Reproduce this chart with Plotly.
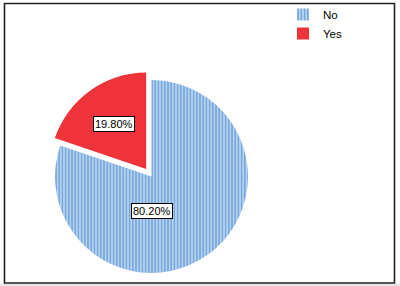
import math
import plotly.graph_objects as go

labels = ["No", "Yes"]
values = [80.2, 19.8]
text_labels = ["80.20%", "19.80%"]
colors = ["#a8c8ec", "#ee333a"]
pulls = [0, 0.095]

W, H = 400, 286
# pie domain in pixels
cx, cy, half = 151.5, 176.5, 105.6
dom_x = [(cx - half) / W, (cx + half) / W]
dom_y = [1 - (cy + half) / H, 1 - (cy - half) / H]

fig = go.Figure()
fig.add_trace(go.Pie(
    labels=labels,
    values=values,
    sort=False,
    direction="clockwise",
    rotation=0,
    pull=pulls,
    textinfo="none",
    hoverinfo="skip",
    marker=dict(
        colors=colors,
        line=dict(width=0),
        pattern=dict(shape=["|", ""], fgcolor=["#6a9fd9", "#ee333a"],
                     bgcolor=["#b8d3f0", "#ee333a"], size=3.2, solidity=0.42),
    ),
    domain=dict(x=dom_x, y=dom_y),
))

# label positions derived from slice geometry
r = half / (1 + max(pulls))
total = sum(values)
annotations = []
start = 0.0
label_frac = [0.36, 0.57]
for i, v in enumerate(values):
    a0 = start / total * 360
    a1 = (start + v) / total * 360
    mid = math.radians((a0 + a1) / 2)
    start += v
    px = cx + math.sin(mid) * r * pulls[i]
    py = cy - math.cos(mid) * r * pulls[i]
    if i == 0:
        lx, ly = px, py + label_frac[i] * r
    else:
        lx = px + math.sin(mid) * r * label_frac[i]
        ly = py - math.cos(mid) * r * label_frac[i]
    annotations.append(dict(
        x=lx / W, y=1 - ly / H, xref="paper", yref="paper",
        xanchor="center", yanchor="middle",
        text=text_labels[i], showarrow=False,
        font=dict(family="Liberation Sans, Arial", size=11, color="black"),
        bgcolor="white", bordercolor="black", borderwidth=1, borderpad=1,
    ))

fig.update_layout(
    width=W, height=H,
    margin=dict(l=0, r=0, t=0, b=0),
    paper_bgcolor="white",
    plot_bgcolor="white",
    showlegend=True,
    legend=dict(
        x=283 / W, y=1.0, xanchor="left", yanchor="top",
        font=dict(family="Liberation Sans, Arial", size=11.5, color="black"),
        bgcolor="rgba(0,0,0,0)", traceorder="normal",
        itemwidth=30, tracegroupgap=0,
    ),
    annotations=annotations,
    shapes=[
        dict(type="rect", xref="paper", yref="paper",
             x0=0, x1=1, y0=0, y1=2.5 / H,
             fillcolor="#e6e6e6", line=dict(width=0), layer="below"),
        dict(type="rect", xref="paper", yref="paper",
             x0=4.5 / W, x1=394.5 / W, y0=1 - 283 / H, y1=1 - 3.5 / H,
             line=dict(color="#222222", width=1.6), fillcolor="rgba(0,0,0,0)"),
    ],
)

fig.write_html("out.html")
